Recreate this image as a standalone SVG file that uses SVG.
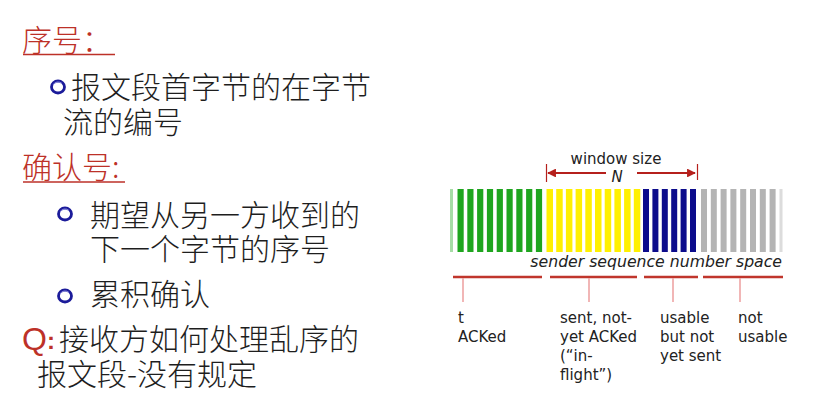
<svg xmlns="http://www.w3.org/2000/svg" xmlns:xlink="http://www.w3.org/1999/xlink" width="830" height="417" viewBox="0 0 830 417">
<style>
.cjk{font-family:"Noto Sans CJK SC","Noto Sans CJK TC",sans-serif;font-size:30px;font-weight:300;fill:#1e1e1e}
.red{fill:#bd3128}
.ul{stroke:#bd3128;stroke-width:1.6}
.lab{font-family:"DejaVu Sans",sans-serif;font-size:15px;fill:#222}
.it{font-style:italic}
.big{font-size:15.7px}
.g{fill:#1fa51f}
.y{fill:#fff000}
.b{fill:#0c0c8c}
.s{fill:#b4b4b4}
.seg{stroke:#c0362c;stroke-width:2.6}
.tick{stroke:#eea4a4;stroke-width:1.6}
.arr{stroke:#b5201c;stroke-width:2.2;fill:none}
</style>
<defs>
<g id="bullet">
<ellipse cx="0" cy="0" rx="6.5" ry="6" fill="none" stroke="#1b1b9a" stroke-width="2.8"/>
<path d="M-5,-2 A5.5,5 0 0 1 4,-3.5" fill="none" stroke="#8c8ce0" stroke-width="1"/>
</g>
<marker id="ah" viewBox="0 0 10 10" refX="9" refY="5" markerWidth="4" markerHeight="4" orient="auto-start-reverse">
<path d="M0,0 L10,5 L0,10 z" fill="#b5201c"/>
</marker>
</defs>
<rect width="830" height="417" fill="#ffffff"/>

<g id="seq-heading">
<text class="cjk red" x="22" y="51">序号：</text>
<line class="ul" x1="23" y1="54.5" x2="115" y2="54.5"/>
</g>
<g id="seq-bullet">
<use xlink:href="#bullet" x="58" y="87"/>
<text class="cjk" x="71" y="98">报文段首字节的在字节</text>
<text class="cjk" x="63" y="133">流的编号</text>
</g>
<g id="ack-heading">
<text class="cjk red" x="22" y="178">确认号:</text>
<line class="ul" x1="23" y1="182" x2="125" y2="182"/>
</g>
<g id="ack-bullet1">
<use xlink:href="#bullet" x="65" y="214"/>
<text class="cjk" x="90" y="226">期望从另一方收到的</text>
<text class="cjk" x="90" y="260">下一个字节的序号</text>
</g>
<g id="ack-bullet2">
<use xlink:href="#bullet" x="65" y="296"/>
<text class="cjk" x="90" y="305">累积确认</text>
</g>
<g id="question">
<text x="22" y="350" font-family="Liberation Sans,sans-serif" font-size="32" class="red">Q</text>
<text x="47" y="349" font-family="Liberation Sans,sans-serif" font-size="24" font-weight="bold" class="red">:</text>
<text class="cjk" x="59" y="350">接收方如何处理乱序的</text>
<text class="cjk" x="37" y="385">报文段-没有规定</text>
</g>

<g id="window-size">
<text class="lab" x="616" y="164" text-anchor="middle">window size</text>
<text class="lab it" x="617" y="182" text-anchor="middle">N</text>
<line class="arr" x1="606" y1="173" x2="548" y2="173" marker-end="url(#ah)"/>
<line class="arr" x1="637" y1="173" x2="695" y2="173" marker-end="url(#ah)"/>
<line stroke="#b5201c" stroke-width="1.2" x1="546.5" y1="164" x2="546.5" y2="182"/>
<line stroke="#b5201c" stroke-width="1.2" x1="697.5" y1="164" x2="697.5" y2="180"/>
</g>

<g id="sequence-bars">
<rect x="450" y="189" width="3" height="63" fill="#a6dca6"/>
<rect class="g" x="457.5" y="189" width="6.2" height="63"/>
<rect class="g" x="467.3" y="189" width="6.2" height="63"/>
<rect class="g" x="477.1" y="189" width="6.2" height="63"/>
<rect class="g" x="486.9" y="189" width="6.2" height="63"/>
<rect class="g" x="496.7" y="189" width="6.2" height="63"/>
<rect class="g" x="506.5" y="189" width="6.2" height="63"/>
<rect class="g" x="516.3" y="189" width="6.2" height="63"/>
<rect class="g" x="526.1" y="189" width="6.2" height="63"/>
<rect class="g" x="535.9" y="189" width="6.2" height="63"/>
<rect class="y" x="546.5" y="189" width="6.5" height="63"/>
<rect class="y" x="556.2" y="189" width="6.5" height="63"/>
<rect class="y" x="565.9" y="189" width="6.5" height="63"/>
<rect class="y" x="575.6" y="189" width="6.5" height="63"/>
<rect class="y" x="585.3" y="189" width="6.5" height="63"/>
<rect class="y" x="595.0" y="189" width="6.5" height="63"/>
<rect class="y" x="604.7" y="189" width="6.5" height="63"/>
<rect class="y" x="614.4" y="189" width="6.5" height="63"/>
<rect class="y" x="624.1" y="189" width="6.5" height="63"/>
<rect class="y" x="633.8" y="189" width="6.5" height="63"/>
<rect class="b" x="643" y="189" width="6" height="63"/>
<rect class="b" x="652.4" y="189" width="6" height="63"/>
<rect class="b" x="661.8" y="189" width="6" height="63"/>
<rect class="b" x="671.2" y="189" width="6" height="63"/>
<rect class="b" x="680.6" y="189" width="6" height="63"/>
<rect class="b" x="690" y="189" width="6" height="63"/>
<rect class="s" x="701" y="189" width="6" height="63"/>
<rect class="s" x="710.8" y="189" width="6" height="63"/>
<rect class="s" x="720.6" y="189" width="6" height="63"/>
<rect class="s" x="730.4" y="189" width="6" height="63"/>
<rect class="s" x="740.2" y="189" width="6" height="63"/>
<rect class="s" x="750" y="189" width="6" height="63"/>
<rect class="s" x="759.8" y="189" width="6" height="63"/>
<rect class="s" x="769.6" y="189" width="6" height="63"/>
<rect x="779.5" y="189" width="3" height="63" fill="#dcdcdc"/>
<text class="lab it big" x="782" y="267" text-anchor="end">sender sequence number space</text>
</g>

<g id="connectors">
<line class="seg" x1="453" y1="277" x2="542" y2="277"/>
<line class="seg" x1="550" y1="277" x2="637" y2="277"/>
<line class="seg" x1="644" y1="277" x2="698" y2="277"/>
<line class="seg" x1="703" y1="277" x2="783" y2="277"/>
<line class="tick" x1="463" y1="278" x2="463" y2="302"/>
<line class="tick" x1="589" y1="278" x2="589" y2="302"/>
<line class="tick" x1="673" y1="278" x2="673" y2="302"/>
<line class="tick" x1="740" y1="278" x2="740" y2="302"/>
</g>

<g id="label-acked">
<text class="lab" x="458" y="323">t</text>
<text class="lab" x="458" y="342">ACKed</text>
</g>
<g id="label-inflight">
<text class="lab" x="560" y="323">sent, not-</text>
<text class="lab" x="560" y="342">yet ACKed</text>
<text class="lab" x="560" y="361">(“in-</text>
<text class="lab" x="560" y="380">flight”)</text>
</g>
<g id="label-usable">
<text class="lab" x="660" y="323">usable</text>
<text class="lab" x="660" y="342">but not</text>
<text class="lab" x="660" y="361">yet sent</text>
</g>
<g id="label-notusable">
<text class="lab" x="738" y="323">not</text>
<text class="lab" x="738" y="342">usable</text>
</g>
</svg>
